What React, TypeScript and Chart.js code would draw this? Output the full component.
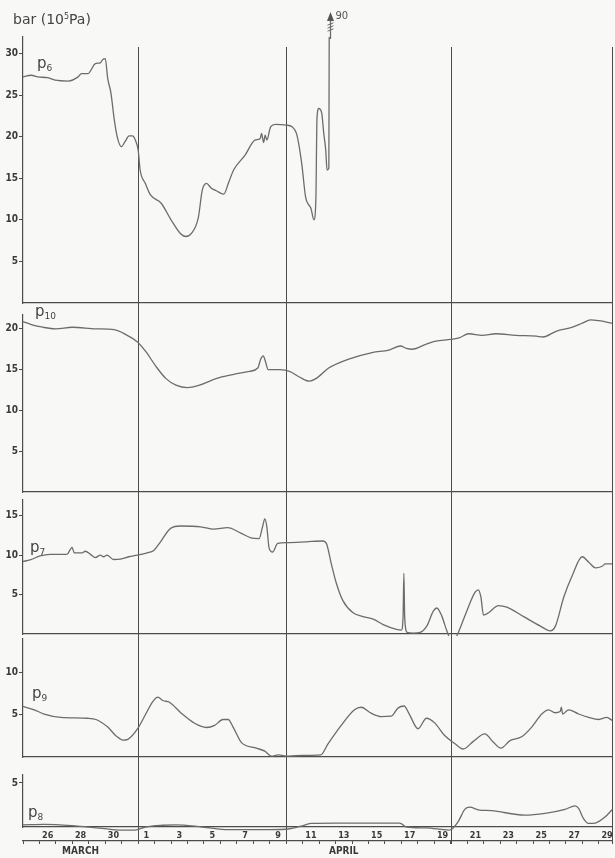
import React, { useEffect, useRef } from 'react';
import { Chart, registerables } from 'chart.js';

Chart.register(...registerables);

// ---------------- data ----------------
// time axis: days counted from 25 March 00 h
const X_MIN = 0;
const X_MAX = 35.8;
// one label per day (shown every second day)
const DAY_LABELS = ['', '26', '', '28', '', '30', '', '1', '', '3', '', '5', '', '7', '', '9', '', '11',
  '', '13', '', '15', '', '17', '', '19', '', '21', '', '23', '', '25', '', '27', '', '29'];
const MONTH_TICKS = [3.5, 19.5];
const MONTH_LABELS = ['MARCH', 'APRIL'];
// reference lines: 1 April, 10 April, 20 April, end of record
const VLINE_DAYS = [7, 16, 26, 35.8];

const Y_LABEL = 'bar (10';
const Y_LABEL_EXP = '5';
const Y_LABEL_UNIT = 'Pa)';

// p6
const P6_T = [0, 0.5, 0.9, 1.5, 1.95, 2.75, 3.35, 3.55, 3.95, 4.4, 4.7, 4.85, 5.0, 5.15, 5.35, 5.55, 5.75, 5.98, 6.2, 6.45,
  6.65, 6.85, 7.0, 7.12, 7.43, 7.75, 8.4, 9.0, 9.55, 9.9, 10.25, 10.65, 10.9, 11.15, 11.45, 11.75, 12.2, 12.5, 12.8, 13.5,
  14.1, 14.42, 14.5, 14.62, 14.72, 14.82, 15.05, 15.35, 16.0, 16.35, 16.65, 16.94, 17.18, 17.37, 17.5, 17.68, 17.8, 17.87, 17.98, 18.16,
  18.28, 18.4, 18.48, 18.59, 18.68];
const P6_V = [27.2, 27.4, 27.2, 27.1, 26.8, 26.7, 27.2, 27.6, 27.6, 28.8, 28.9, 29.3, 29.4, 27.0, 25.2, 22.0, 19.8, 18.8, 19.4, 20.1,
  20.1, 19.5, 18.4, 16.0, 14.4, 13.0, 12.0, 10.0, 8.4, 8.0, 8.4, 10.2, 13.6, 14.4, 13.8, 13.5, 13.1, 14.5, 16.0, 17.8,
  19.6, 19.8, 20.4, 19.3, 20.2, 19.6, 21.2, 21.5, 21.4, 21.2, 20.2, 16.8, 12.7, 11.8, 11.4, 10.0, 12.4, 22.3, 23.4, 22.8,
  20.4, 18.4, 16.0, 16.2, 90];

// p10
const P10_T = [0, 0.55, 1.2, 1.98, 3.0, 4.42, 5.54, 6.25, 6.96, 7.47, 8.08, 8.69, 9.3, 10.0, 10.72, 11.73, 12.75, 13.77, 14.27, 14.45,
  14.6, 14.75, 14.9, 15.6, 16.2, 16.8, 17.4, 17.8, 18.58, 19.8, 21.22, 22.24, 22.95, 23.3, 23.66, 24.48, 25.09, 26.0, 26.5, 27.1,
  27.9, 28.74, 29.96, 31.2, 31.6, 32.4, 33.4, 34.0, 34.5, 35.0, 35.8];
const P10_V = [20.9, 20.5, 20.2, 20.0, 20.2, 20.0, 19.9, 19.3, 18.4, 17.2, 15.4, 13.9, 13.1, 12.8, 13.1, 13.9, 14.4, 14.8, 15.2, 16.3,
  16.7, 15.9, 15.0, 15.0, 14.8, 14.1, 13.6, 13.9, 15.2, 16.3, 17.1, 17.4, 17.9, 17.6, 17.5, 18.1, 18.5, 18.7, 18.9, 19.4,
  19.2, 19.4, 19.2, 19.1, 19.0, 19.7, 20.2, 20.7, 21.1, 21.0, 20.7];

// p7
const P7_T = [0, 0.43, 1.04, 1.65, 2.67, 2.87, 2.98, 3.12, 3.59, 3.79, 4.1, 4.4, 4.7, 4.9, 5.1, 5.51, 5.92, 6.43, 6.94, 7.55,
  7.95, 8.36, 8.97, 9.58, 10.8, 11.6, 12.43, 13.24, 13.85, 14.35, 14.56, 14.7, 14.82, 14.96, 15.17, 15.48, 16.08, 17.2, 18.23, 18.44,
  18.74, 19.05, 19.45, 20.06, 20.67, 21.28, 21.89, 22.7, 23.0, 23.1, 23.15, 23.2, 23.35, 23.72, 24.13, 24.54, 24.94, 25.15, 25.45, 25.76,
  25.96, 26.26, 26.46, 26.97, 27.48, 27.68, 27.83, 27.99, 28.3, 28.9, 29.41, 30.43, 31.45, 32.05, 32.36, 32.87, 33.38, 33.99, 34.39, 34.8,
  35.2, 35.4, 35.8];
const P7_V = [9.2, 9.4, 9.9, 10.1, 10.1, 10.7, 11.0, 10.3, 10.3, 10.5, 10.1, 9.7, 10.0, 9.8, 10.0, 9.45, 9.5, 9.8, 10.0, 10.3,
  10.6, 11.7, 13.4, 13.7, 13.6, 13.3, 13.5, 12.8, 12.2, 12.1, 13.6, 14.6, 13.6, 10.9, 10.4, 11.5, 11.6, 11.7, 11.8, 11.5,
  8.9, 6.4, 4.2, 2.7, 2.2, 1.9, 1.2, 0.6, 0.5, 2.1, 7.7, 2.1, 0.2, 0.1, 0.2, 1.0, 2.9, 3.3, 2.3, 0.4,
  -0.5, -0.55, 0.2, 2.9, 5.3, 5.6, 4.7, 2.4, 2.7, 3.6, 3.4, 2.2, 1.0, 0.4, 1.0, 4.7, 7.4, 9.8, 9.1, 8.4,
  8.6, 8.9, 8.9];

// p9
const P9_T = [0, 0.68, 1.29, 2.3, 3.93, 4.44, 5.15, 5.66, 6.07, 6.37, 6.98, 7.38, 7.9, 8.2, 8.5, 8.9, 9.62, 10.43, 11.15, 11.65,
  12.16, 12.47, 12.77, 13.28, 14.09, 14.7, 15.1, 15.52, 16.13, 17.0, 18.1, 18.52, 19.34, 20.15, 20.55, 21.16, 21.77, 22.38, 22.79, 23.16,
  23.5, 24.01, 24.52, 25.02, 25.63, 26.24, 26.75, 27.37, 28.07, 28.59, 29.05, 29.6, 30.31, 30.92, 31.53, 31.94, 32.34, 32.65, 32.72, 32.8,
  33.16, 33.77, 34.38, 34.99, 35.49, 35.8];
const P9_V = [6.0, 5.6, 5.1, 4.7, 4.6, 4.45, 3.55, 2.5, 2.0, 2.1, 3.4, 4.8, 6.6, 7.1, 6.7, 6.5, 5.2, 4.0, 3.5, 3.75,
  4.45, 4.45, 3.55, 1.7, 1.1, 0.7, 0.1, 0.25, 0.1, 0.2, 0.25, 1.5, 3.75, 5.6, 5.9, 5.2, 4.8, 4.85, 5.8, 6.05,
  5.0, 3.35, 4.6, 4.05, 2.55, 1.6, 0.95, 1.85, 2.75, 1.75, 1.05, 1.95, 2.4, 3.55, 5.1, 5.6, 5.25, 5.4, 5.9, 5.1,
  5.6, 5.1, 4.7, 4.45, 4.7, 4.35];

// p8
const P8_T = [0, 1.3, 3.3, 4.8, 6.0, 6.8, 7.45, 8.5, 9.3, 10.9, 12.5, 15.0, 16.2, 16.9, 17.5, 19.0, 21.0, 22.9, 23.3, 24.5,
  25.9, 26.1, 26.45, 26.85, 27.16, 27.67, 28.48, 30.51, 31.73, 32.95, 33.56, 33.77, 34.07, 34.37, 34.78, 35.39, 35.8];
const P8_V = [0.25, 0.3, 0.1, -0.15, -0.35, -0.35, 0, 0.2, 0.25, 0, -0.3, -0.3, -0.2, 0.1, 0.4, 0.45, 0.45, 0.45, 0, -0.1,
  -0.35, -0.2, 0.6, 2.0, 2.25, 1.95, 1.85, 1.35, 1.55, 2.0, 2.4, 2.1, 0.95, 0.4, 0.45, 1.15, 1.95];

const P6_TICKS = [5, 10, 15, 20, 25, 30];
const P10_TICKS = [5, 10, 15, 20];
const P7_TICKS = [5, 10, 15];
const P9_TICKS = [5, 10];
const P8_TICKS = [5];

// ---------------- styles / layout ----------------
const BG = '#f8f8f6';
const AXIS = '#4c4c4c';
const LINE = '#6c6c6c';
const TEXT = '#3a3a3a';
const NARROW = '"Liberation Sans Narrow", "DejaVu Sans Condensed", "Liberation Sans", sans-serif';
const W = 615;
const AXIS_W = 23;
const PAD_RIGHT = 3;

type PanelCfg = {
  key: string; sub: string; t: number[]; v: number[]; yMax: number; yTicks: number[];
  top: number; height: number; padTop: number; padBottom: number; vTop: number; vBottom: number;
  labelX: number; labelY: number; bottom?: boolean; offscale?: boolean;
};

const PANELS: PanelCfg[] = [
  { key: 'p6', sub: '6', t: P6_T, v: P6_V, yMax: 32, yTicks: P6_TICKS, top: 0, height: 309, padTop: 37, padBottom: 6, vTop: 47, vBottom: 309, labelX: 37, labelY: 56, offscale: true },
  { key: 'p10', sub: '10', t: P10_T, v: P10_V, yMax: 21.7, yTicks: P10_TICKS, top: 309, height: 187, padTop: 6, padBottom: 4, vTop: 0, vBottom: 187, labelX: 35, labelY: 304 },
  { key: 'p7', sub: '7', t: P7_T, v: P7_V, yMax: 17, yTicks: P7_TICKS, top: 496, height: 140, padTop: 4, padBottom: 2, vTop: 0, vBottom: 140, labelX: 30, labelY: 540 },
  { key: 'p9', sub: '9', t: P9_T, v: P9_V, yMax: 14, yTicks: P9_TICKS, top: 636, height: 134, padTop: 3, padBottom: 13, vTop: 0, vBottom: 134, labelX: 32, labelY: 686 },
  { key: 'p8', sub: '8', t: P8_T, v: P8_V, yMax: 5.9, yTicks: P8_TICKS, top: 770, height: 88, padTop: 5, padBottom: 0, vTop: 0, vBottom: 74, labelX: 28, labelY: 805, bottom: true },
];

function makeVLines(vTop: number, vBottom: number) {
  return {
    id: 'vlines',
    beforeDatasetsDraw(chart: any) {
      const xs = chart.scales.x;
      const ctx = chart.ctx;
      ctx.save();
      ctx.strokeStyle = AXIS;
      ctx.lineWidth = 1;
      for (const d of VLINE_DAYS) {
        const px = Math.round(xs.getPixelForValue(d)) + 0.5;
        ctx.beginPath();
        ctx.moveTo(px, vTop);
        ctx.lineTo(px, vBottom);
        ctx.stroke();
      }
      ctx.restore();
    },
  };
}

function makeOffscale(t: number[], v: number[]) {
  return {
    id: 'offscale',
    afterDatasetsDraw(chart: any) {
      const xs = chart.scales.x;
      const ys = chart.scales.y;
      const i = v.findIndex((val) => val > ys.max);
      if (i < 0) return;
      const px = Math.round(xs.getPixelForValue(t[i])) + 0.5;
      const top = chart.chartArea.top;
      const ctx = chart.ctx;
      ctx.save();
      ctx.strokeStyle = LINE;
      ctx.fillStyle = '#555';
      ctx.lineWidth = 1.3;
      ctx.beginPath();
      ctx.moveTo(px, top + 2);
      ctx.lineTo(px, 19);
      ctx.stroke();
      ctx.lineWidth = 1;
      for (const y of [24, 27, 30]) {
        ctx.beginPath();
        ctx.moveTo(px - 3, y + 1.2);
        ctx.lineTo(px + 3, y - 1.2);
        ctx.stroke();
      }
      ctx.beginPath();
      ctx.moveTo(px, 12);
      ctx.lineTo(px - 3.5, 21);
      ctx.lineTo(px + 3.5, 21);
      ctx.closePath();
      ctx.fill();
      ctx.font = '10px "DejaVu Sans", sans-serif';
      ctx.fillStyle = '#555';
      ctx.textBaseline = 'alphabetic';
      ctx.fillText(String(v[i]), px + 5, 19);
      ctx.restore();
    },
  };
}

function buildConfig(p: PanelCfg): any {
  const dayTicks = DAY_LABELS.map((_, i) => i + 0.5);
  const scales: any = {
    x: {
      type: 'linear', min: X_MIN, max: X_MAX, position: 'bottom', weight: 0,
      afterBuildTicks: (s: any) => { s.ticks = dayTicks.map((value) => ({ value })); },
      afterFit: (s: any) => { s.height = p.bottom ? 14 : 0; s.paddingLeft = 0; s.paddingRight = 0; },
      ticks: {
        display: !!p.bottom, autoSkip: false, maxRotation: 0, minRotation: 0, padding: 3, color: TEXT,
        font: { family: NARROW, size: 9, weight: 'bold' },
        callback: (_v: any, i: number) => DAY_LABELS[i],
      },
      grid: { display: false, drawTicks: false },
      border: { display: true, color: AXIS, width: 1.2 },
    },
    y: {
      type: 'linear', min: 0, max: p.yMax, position: 'left',
      afterBuildTicks: (s: any) => { s.ticks = p.yTicks.map((value) => ({ value })); },
      afterFit: (s: any) => { s.width = AXIS_W; s.paddingTop = 0; s.paddingBottom = 0; },
      ticks: { padding: 1, color: TEXT, font: { family: NARROW, size: 10, weight: 'bold' } },
      grid: { drawOnChartArea: false, drawTicks: true, tickLength: 4, color: AXIS, lineWidth: 1 },
      border: { display: true, color: AXIS, width: 1.2 },
    },
  };
  if (p.bottom) {
    scales.x2 = {
      type: 'linear', axis: 'x', min: X_MIN, max: X_MAX, position: 'bottom', weight: 1,
      afterBuildTicks: (s: any) => { s.ticks = dayTicks.map((value) => ({ value })); },
      afterFit: (s: any) => { s.height = 17; s.paddingLeft = 0; s.paddingRight = 0; },
      ticks: {
        autoSkip: false, maxRotation: 0, minRotation: 0, padding: 1, color: TEXT,
        font: { family: NARROW, size: 10, weight: 'bold' },
        callback: (val: number) => { const k = MONTH_TICKS.indexOf(val); return k >= 0 ? MONTH_LABELS[k] : ''; },
      },
      grid: { display: true, drawOnChartArea: false, drawTicks: true, tickLength: 3, offset: true, color: AXIS, lineWidth: 1 },
      border: { display: true, color: AXIS, width: 1.2 },
    };
  }
  const plugins: any[] = [makeVLines(p.vTop, p.vBottom)];
  if (p.offscale) plugins.push(makeOffscale(p.t, p.v));
  return {
    type: 'line',
    data: {
      datasets: [{
        label: p.key,
        data: p.t.map((x, i) => ({ x, y: p.v[i] })),
        borderColor: LINE,
        borderWidth: 1.3,
        pointRadius: 0,
        fill: false,
        cubicInterpolationMode: 'monotone',
        clip: { left: 0, top: 0, right: 2, bottom: 8 },
      }],
    },
    options: {
      responsive: false,
      animation: false,
      events: [],
      layout: { padding: { left: 0, right: PAD_RIGHT, top: p.padTop, bottom: p.padBottom } },
      plugins: { legend: { display: false }, tooltip: { enabled: false }, title: { display: false } },
      scales,
    },
    plugins,
  };
}

function PanelChart({ p }: { p: PanelCfg }) {
  const ref = useRef<HTMLCanvasElement>(null);
  useEffect(() => {
    const chart = new Chart(ref.current as HTMLCanvasElement, buildConfig(p));
    return () => chart.destroy();
  }, []);
  return (
    <canvas ref={ref} width={W} height={p.height}
      style={{ position: 'absolute', left: 0, top: p.top, width: W, height: p.height, display: 'block' }} />
  );
}

export default function App() {
  return (
    <div style={{ position: 'absolute', left: 0, top: 0, width: W, height: 858, background: BG, overflow: 'hidden' }}>
      {PANELS.map((p) => <PanelChart key={p.key} p={p} />)}
      <div style={{ position: 'absolute', left: 13, top: 12, font: '14px "DejaVu Sans", sans-serif', lineHeight: '14px', color: '#444', whiteSpace: 'nowrap' }}>
        {Y_LABEL}<span style={{ fontSize: 8, position: 'relative', top: -5 }}>{Y_LABEL_EXP}</span>{Y_LABEL_UNIT}
      </div>
      {PANELS.map((p) => (
        <div key={'lbl' + p.key} style={{ position: 'absolute', left: p.labelX, top: p.labelY, font: '15px "DejaVu Sans", sans-serif', lineHeight: '14px', color: '#444', whiteSpace: 'nowrap' }}>
          p<span style={{ fontSize: 9, position: 'relative', top: 3 }}>{p.sub}</span>
        </div>
      ))}
    </div>
  );
}
